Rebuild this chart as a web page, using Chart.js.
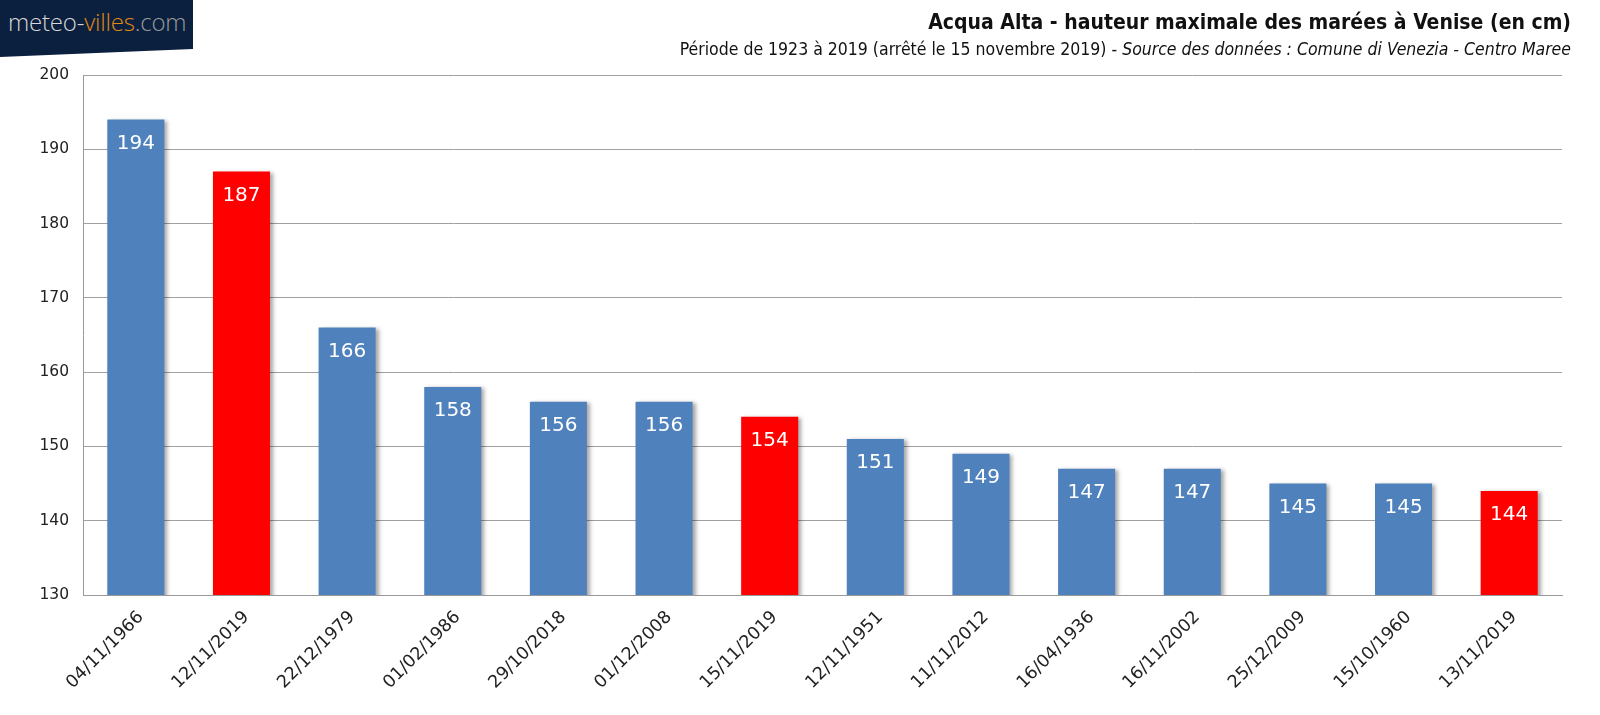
<!DOCTYPE html>
<html>
<head>
<meta charset="utf-8">
<script src="https://cdn.jsdelivr.net/npm/chart.js@4.4.1/dist/chart.umd.min.js"></script>
<style>
  html, body { margin: 0; padding: 0; background: #fff; }
  #wrap { position: relative; width: 1600px; height: 715px; overflow: hidden; }
  #c { position: absolute; left: 0; top: 0; }
  #logo { position: absolute; left: 0; top: 0; width: 193px; height: 57px; background: #0b1f3e;
          clip-path: polygon(0 0, 100% 0, 100% 86%, 0 100%); }
  #logo span.t { position: absolute; left: 8px; top: 5px; font-family: "Open Sans", sans-serif; font-weight: 300; font-size: 24px; letter-spacing: -0.2px; color: #d8d8d8; white-space: nowrap; }
  #logo .o { color: #e08a12; }
  #logo .g { color: #9a9a9a; }
  #title { position: absolute; right: 29px; top: 10px; font-family: "DejaVu Sans Condensed", "DejaVu Sans", sans-serif; font-weight: bold; font-size: 21px; color: #111; white-space: nowrap; }
  #sub { position: absolute; right: 29px; top: 39px; font-family: "DejaVu Sans Condensed", "DejaVu Sans", sans-serif; font-size: 17.5px; color: #111; white-space: nowrap; }
</style>
</head>
<body>
<div id="wrap">
  <canvas id="c" width="1600" height="715"></canvas>
  <div id="logo"><span class="t">meteo-<span class="o">villes</span><span class="g">.com</span></span></div>
  <div id="title">Acqua Alta - hauteur maximale des marées à Venise (en cm)</div>
  <div id="sub">Période de 1923 à 2019 (arrêté le 15 novembre 2019) - <i>Source des données : Comune di Venezia - Centro Maree</i></div>
</div>
<script>
const categories = ["04/11/1966","12/11/2019","22/12/1979","01/02/1986","29/10/2018","01/12/2008","15/11/2019","12/11/1951","11/11/2012","16/04/1936","16/11/2002","25/12/2009","15/10/1960","13/11/2019"];
const heights = [194,187,166,158,156,156,154,151,149,147,147,145,145,144];
const is2019 = [false,true,false,false,false,false,true,false,false,false,false,false,false,true];
const yTicks = [130,140,150,160,170,180,190,200];

const BLUE = "#4f81bd", RED = "#ff0000";
const barColors = is2019.map(r => r ? RED : BLUE);

const shadowPlugin = {
  id: "shadow",
  beforeDatasetDraw(chart) {
    const ctx = chart.ctx;
    ctx.save();
    ctx.shadowColor = "rgba(0,0,0,0.35)";
    ctx.shadowOffsetX = 3;
    ctx.shadowOffsetY = 1;
    ctx.shadowBlur = 4;
  },
  afterDatasetDraw(chart) { chart.ctx.restore(); }
};

const labelPlugin = {
  id: "barLabels",
  afterDatasetsDraw(chart) {
    const ctx = chart.ctx;
    const meta = chart.getDatasetMeta(0);
    ctx.save();
    ctx.fillStyle = "#ffffff";
    ctx.font = "20px 'DejaVu Sans', sans-serif";
    ctx.textAlign = "center";
    ctx.textBaseline = "middle";
    meta.data.forEach((bar, i) => {
      ctx.fillText(String(heights[i]), bar.x, bar.y + 24);
    });
    ctx.restore();
  }
};

new Chart(document.getElementById("c"), {
  type: "bar",
  data: {
    labels: categories,
    datasets: [{
      data: heights,
      backgroundColor: barColors,
      borderWidth: 0,
      categoryPercentage: 1.0,
      barPercentage: 0.54
    }]
  },
  options: {
    responsive: false,
    animation: false,
    devicePixelRatio: 1,
    layout: { padding: { left: 0, right: 38, top: 75, bottom: 0 } },
    plugins: { legend: { display: false }, tooltip: { enabled: false } },
    scales: {
      x: {
        grid: { display: false, drawTicks: false },
        border: { display: true, color: "#999", width: 1 },
        ticks: {
          color: "#222",
          font: { family: "'DejaVu Sans', sans-serif", size: 17.5 },
          maxRotation: 45, minRotation: 45, padding: 12, labelOffset: 5, autoSkip: false
        },
        afterFit(scale) { scale.height = 120; }
      },
      y: {
        min: 130, max: 200,
        afterBuildTicks(scale) { scale.ticks = yTicks.map(v => ({ value: v })); },
        grid: { color: "#a0a0a0", lineWidth: 1, drawTicks: false },
        border: { display: true, color: "#999", width: 1 },
        ticks: {
          color: "#222",
          font: { family: "'DejaVu Sans', sans-serif", size: 15.5 },
          padding: 14
        },
        afterFit(scale) { scale.width = 83; }
      }
    }
  },
  plugins: [shadowPlugin, labelPlugin]
});
</script>
</body>
</html>
